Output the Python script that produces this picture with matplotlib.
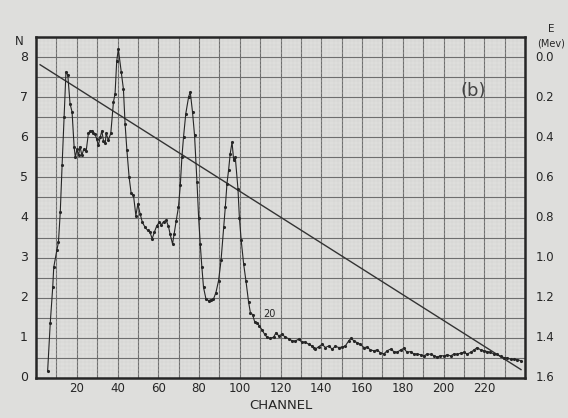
import numpy as np
import matplotlib
matplotlib.use("Agg")
import matplotlib.pyplot as plt

# pulse height spectrum (b)
channel = [5.7, 7.0, 8.2, 8.7, 10.2, 11.0, 11.9, 12.8, 13.8, 14.7, 15.6, 16.7, 17.7,
           18.7, 19.3, 20.1, 20.9, 21.6, 22.5, 23.4, 24.6, 25.7, 26.5, 27.3, 28.2,
           29.0, 29.8, 30.6, 31.5, 32.3, 33.1, 34.0, 34.4, 35.5, 36.7, 38.0, 38.8,
           39.6, 40.4, 41.8, 42.9, 43.7, 44.6, 45.7, 46.7, 47.8, 49.0, 50.0, 51.1,
           52.2, 53.5, 54.8, 55.9, 57.0, 58.1, 59.3, 60.5, 61.5, 62.6, 63.9, 65.0,
           65.8, 67.0, 67.8, 68.8, 69.9, 70.8, 71.6, 72.4, 73.5, 74.9, 75.7, 76.8,
           77.8, 79.0, 79.8, 80.6, 81.4, 82.2, 83.4, 84.7, 85.9, 87.1, 88.3, 89.6,
           90.8, 92.1, 92.9, 93.7, 94.5, 95.3, 96.2, 97.0, 97.8, 99.1, 99.8, 100.7,
           101.9, 103.0, 104.3, 105.2, 106.3, 107.3, 108.4, 109.6, 110.9, 112.2,
           113.4, 115.0, 116.6, 117.8, 119.1, 120.7, 122.3, 124.0, 125.6, 127.2,
           128.9, 130.5, 132.1, 133.8, 135.5, 136.3, 137.1, 138.7, 140.4, 142.0,
           143.7, 145.3, 146.9, 148.6, 150.2, 151.8, 153.5, 154.6, 155.9, 157.6,
           159.2, 160.9, 162.5, 164.1, 165.8, 167.4, 169.0, 170.7, 172.3, 174.0,
           175.6, 177.2, 178.9, 180.5, 182.1, 183.8, 185.4, 187.0, 188.7, 190.3,
           192.0, 193.6, 195.3, 196.9, 198.5, 200.2, 201.8, 203.5, 205.1, 206.7,
           208.4, 210.0, 211.6, 213.3, 215.0, 216.5, 218.2, 219.8, 221.4, 223.0,
           224.7, 226.3, 228.0, 229.6, 231.2, 232.9, 234.5, 236.2, 238.0]
counts = [0.17, 1.38, 2.26, 2.76, 3.18, 3.38, 4.13, 5.3, 6.5, 7.63, 7.55, 6.84, 6.63,
          5.76, 5.5, 5.7, 5.55, 5.77, 5.55, 5.7, 5.65, 6.1, 6.15, 6.16, 6.1,
          6.08, 5.95, 5.8, 6.0, 6.16, 5.92, 5.85, 6.1, 5.93, 6.1, 6.88, 7.09,
          7.9, 8.2, 7.63, 7.2, 6.34, 5.68, 5.0, 4.6, 4.57, 4.05, 4.34, 4.09,
          3.88, 3.76, 3.68, 3.64, 3.47, 3.64, 3.8, 3.88, 3.82, 3.9, 3.93, 3.78,
          3.59, 3.34, 3.6, 3.92, 4.26, 4.8, 5.51, 6.01, 6.59, 7.01, 7.13, 6.63,
          6.05, 4.88, 4.0, 3.34, 2.76, 2.26, 1.97, 1.93, 1.95, 1.97, 2.13, 2.43,
          2.93, 3.76, 4.26, 4.84, 5.18, 5.59, 5.88, 5.43, 5.5, 4.72, 4.0, 3.43,
          2.84, 2.43, 1.9, 1.63, 1.58, 1.4, 1.38, 1.3, 1.2, 1.09,
          1.01, 0.99, 1.02, 1.13, 1.05, 1.09, 1.02, 0.98, 0.93, 0.92,
          0.97, 0.89, 0.9, 0.84, 0.8, 0.74, 0.72, 0.78, 0.84, 0.76,
          0.8, 0.72, 0.79, 0.76, 0.77, 0.8, 0.93, 0.99, 0.93, 0.88,
          0.84, 0.76, 0.77, 0.7, 0.68, 0.7, 0.63, 0.6, 0.68, 0.72,
          0.66, 0.64, 0.7, 0.74, 0.64, 0.66, 0.6, 0.6, 0.58, 0.55,
          0.6, 0.59, 0.56, 0.52, 0.56, 0.55, 0.58, 0.55, 0.6, 0.59,
          0.62, 0.64, 0.6, 0.64, 0.7, 0.76, 0.7, 0.68, 0.66, 0.64,
          0.6, 0.59, 0.54, 0.51, 0.5, 0.47, 0.47, 0.46, 0.43]

# energy calibration line (channel -> N scale position)
calib_channel = [2, 238]
calib_n = [7.81, 0.21]

n_ticks = [0, 1, 2, 3, 4, 5, 6, 7, 8]
channel_ticks = [20, 40, 60, 80, 100, 120, 140, 160, 180, 200, 220]
energy_labels = ["0.0", "0.2", "0.4", "0.6", "0.8", "1.0", "1.2", "1.4", "1.6"]

paper = "#dededc"
ink = "#262626"

fig = plt.figure(figsize=(5.68, 4.18), dpi=100, facecolor=paper)
ax = fig.add_axes([0.0634, 0.0957, 0.861, 0.8157])
ax.set_facecolor(paper)
ax.set_xlim(0, 240)
ax.set_ylim(0, 8.5)

# graph paper
ax.set_xticks(np.arange(0, 241, 10))
ax.set_yticks(np.arange(0, 8.51, 0.5))
ax.set_xticks(np.arange(0, 241, 2), minor=True)
ax.set_yticks(np.arange(0, 8.51, 0.1), minor=True)
ax.grid(True, which="major", color="#6e6e6e", lw=0.8)
ax.grid(True, which="minor", color="#d0d0ce", lw=0.3)
ax.set_axisbelow(True)
ax.tick_params(which="both", length=0, labelbottom=False, labelleft=False)
for sp in ax.spines.values():
    sp.set_linewidth(1.8)
    sp.set_color(ink)

ax.plot(calib_channel, calib_n, color="#333333", lw=1.0)
ax.plot(channel, counts, color=ink, lw=0.8, marker=".", ms=2.5)

# tick labels drawn as text to mimic the hand lettering
for n in n_ticks:
    ax.text(-4, n, str(n), ha="right", va="center", fontsize=9, color=ink, clip_on=False)
for c in channel_ticks:
    ax.text(c, -0.25, str(c), ha="center", va="center", fontsize=8.5, color=ink, clip_on=False)
for n, lab in zip(n_ticks[::-1], energy_labels):
    ax.text(245, n, lab, ha="left", va="center", fontsize=8.5, color=ink, clip_on=False)

ax.text(-8, 8.4, "N", ha="center", va="center", fontsize=8.5, color=ink, clip_on=False)
ax.text(253, 8.7, "E", ha="center", va="center", fontsize=7.5, color=ink, clip_on=False)
ax.text(253, 8.35, "(Mev)", ha="center", va="center", fontsize=7, color=ink, clip_on=False)
ax.text(120, -0.68, "CHANNEL", ha="center", va="center", fontsize=9.5, color=ink, clip_on=False)
ax.text(214.5, 7.15, "(b)", ha="center", va="center", fontsize=13, color="#444444")
ax.text(114.5, 1.6, "20", ha="center", va="center", fontsize=7, color=ink)

fig.savefig("out.png", dpi=100, facecolor=paper)
